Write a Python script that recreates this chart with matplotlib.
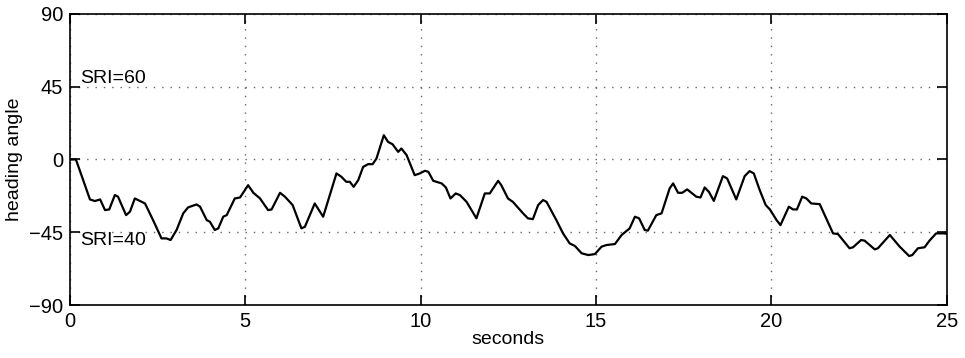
import numpy as np
import matplotlib
matplotlib.use('Agg')
import matplotlib.pyplot as plt

plt.rcParams['font.family'] = ['Liberation Sans', 'DejaVu Sans']

# heading trace sampled along the run (seconds, degrees)
seconds = [0, 0.17, 0.57, 0.71, 0.86, 1.0, 1.12, 1.28, 1.37, 1.6, 1.71, 1.85, 2.0, 2.14,
           2.37, 2.61, 2.75, 2.87, 3.04, 3.23, 3.37, 3.61, 3.71, 3.9, 3.99, 4.13, 4.23,
           4.37, 4.47, 4.7, 4.85, 5.08, 5.23, 5.42, 5.65, 5.75, 5.99, 6.13, 6.35, 6.6,
           6.7, 6.98, 7.22, 7.6, 7.74, 7.88, 7.98, 8.09, 8.22, 8.36, 8.5, 8.63, 8.74,
           8.95, 9.07, 9.2, 9.36, 9.45, 9.6, 9.83, 9.98, 10.12, 10.22, 10.36, 10.6,
           10.72, 10.85, 11.0, 11.12, 11.31, 11.59, 11.83, 11.97, 12.21, 12.3, 12.49,
           12.63, 12.92, 13.06, 13.2, 13.35, 13.49, 13.59, 13.87, 14.06, 14.25, 14.4,
           14.59, 14.78, 14.97, 15.16, 15.3, 15.54, 15.73, 15.96, 16.11, 16.23, 16.39,
           16.48, 16.72, 16.87, 17.1, 17.2, 17.34, 17.46, 17.6, 17.86, 17.98, 18.1,
           18.22, 18.36, 18.62, 18.74, 19.0, 19.24, 19.38, 19.5, 19.67, 19.84, 19.96,
           20.15, 20.26, 20.5, 20.62, 20.73, 20.88, 21.0, 21.14, 21.38, 21.76, 21.9,
           22.23, 22.33, 22.56, 22.66, 22.95, 23.04, 23.38, 23.66, 23.93, 24.02, 24.18,
           24.37, 24.51, 24.7, 24.94, 25.0]
heading = [0, 0, -24.7, -25.7, -24.7, -31.3, -30.9, -22, -23, -34.4, -32.3, -24.1, -25.7,
           -27.2, -37.5, -48.8, -48.8, -49.8, -43.6, -33.3, -29.6, -27.8, -29.2, -37.5,
           -38.5, -43.6, -42.6, -35.4, -34.4, -24.1, -23.5, -15.9, -20.6, -24.1, -31.3,
           -30.9, -20.6, -23, -28.2, -42.6, -41.6, -27.2, -35.4, -8.6, -10.7, -13.8,
           -13.8, -16.9, -12.8, -4.6, -2.9, -2.9, 0.6, 15, 10.9, 9.4, 4.7, 6.8, 2.7,
           -9.7, -8.6, -7, -7.6, -13.2, -14.8, -17.3, -24.1, -21, -22, -26.2, -36.4,
           -21, -21, -13.2, -15.9, -24.1, -26.2, -33.3, -36.4, -36.9, -28.2, -25.1,
           -26.2, -37.5, -45.7, -51.9, -53.5, -58, -59.1, -58.5, -53.9, -52.9, -52.3,
           -46.7, -42.6, -35.4, -36.4, -43.6, -44, -34.4, -33.3, -17.9, -14.8, -20.6,
           -20.6, -18.5, -23, -23.5, -17.3, -20, -25.6, -10.3, -11.7, -24.7, -10.3,
           -7.2, -8.6, -19, -28.2, -30.9, -37.5, -40.6, -29.2, -30.9, -30.9, -23,
           -24.1, -27.2, -27.6, -45.7, -46.1, -54.9, -54.3, -49.8, -50.2, -55.6, -54.9,
           -46.7, -53.9, -59.7, -59.1, -54.9, -54.3, -50.2, -45.7, -45.7, -46]

xticks = [0, 5, 10, 15, 20, 25]
yticks = [-90, -45, 0, 45, 90]

fig = plt.figure(figsize=(9.65, 3.58), dpi=100)
ax = fig.add_axes([0.0725, 0.148, 0.9085, 0.813])

ax.plot(seconds, heading, color='black', lw=1.6)

ax.set_xlim(0, 25)
ax.set_ylim(-90, 90)
ax.set_xticks(xticks)
ax.set_yticks(yticks)
ax.set_yticklabels(['\u221290', '\u221245', '0', '45', '90'])
ax.grid(True, color='0.4', linestyle=(0, (1, 5)), lw=1.0)
ax.tick_params(direction='in', length=7, width=1.2, top=True, right=True,
               labelsize=14.5, pad=5)
for s in ax.spines.values():
    s.set_linewidth(1.2)

ax.text(0.28, 45, 'SRI=60', fontsize=14, va='bottom', ha='left')
ax.text(0.28, -45, 'SRI=40', fontsize=14, va='top', ha='left')

ax.set_xlabel('seconds', fontsize=14, labelpad=0)
ax.set_ylabel('heading angle', fontsize=14, labelpad=4)

fig.savefig('out.png', dpi=100)
